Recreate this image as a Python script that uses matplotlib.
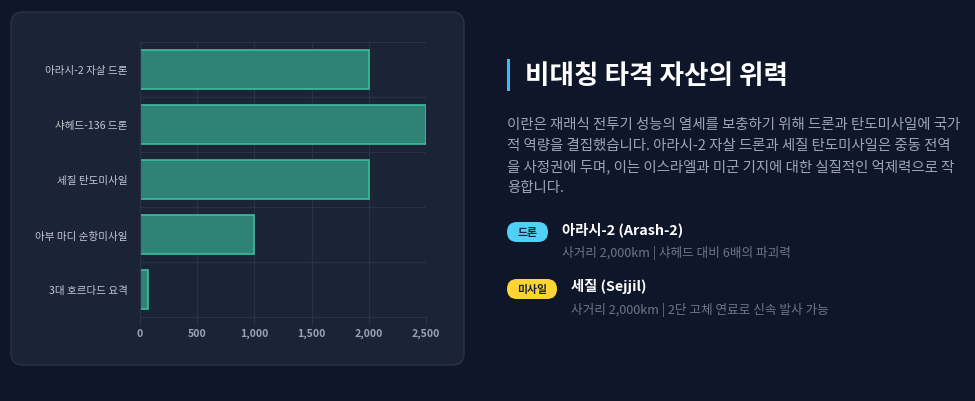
import matplotlib
matplotlib.use("Agg")
import matplotlib.pyplot as plt
from matplotlib.patches import FancyBboxPatch, Rectangle
from matplotlib.ticker import FixedLocator, FuncFormatter

plt.rcParams['font.family'] = ['Noto Sans CJK KR', 'DejaVu Sans']

# ---- data ----
categories = ['아라시-2 자살 드론', '샤헤드-136 드론', '세질 탄도미사일',
              '아부 마디 순항미사일', '3대 호르다드 요격']
ranges_km = [2000, 2500, 2000, 1000, 70]
x_ticks = [0, 500, 1000, 1500, 2000, 2500]

title = '비대칭 타격 자산의 위력'
paragraph = [
    '이란은 재래식 전투기 성능의 열세를 보충하기 위해 드론과 탄도미사일에 국가',
    '적 역량을 결집했습니다. 아라시-2 자살 드론과 세질 탄도미사일은 중동 전역',
    '을 사정권에 두며, 이는 이스라엘과 미군 기지에 대한 실질적인 억제력으로 작',
    '용합니다.',
]
badges = ['드론', '미사일']
item_titles = ['아라시-2 (Arash-2)', '세질 (Sejjil)']
item_subs = ['사거리 2,000km | 샤헤드 대비 6배의 파괴력',
             '사거리 2,000km | 2단 고체 연료로 신속 발사 가능']

# ---- colours ----
bg = '#0f1629'
card = '#1b2336'
card_edge = '#2a3346'
grid_c = '#2a3345'
bar_fill = '#2f8276'
bar_edge = '#3dbd9c'

W, H = 975, 402
fig = plt.figure(figsize=(W / 100, H / 100), dpi=100, facecolor=bg)

# background canvas in pixel coordinates
bgax = fig.add_axes([0, 0, 1, 1])
bgax.set_xlim(0, W)
bgax.set_ylim(H, 0)
bgax.axis('off')

bgax.add_patch(FancyBboxPatch((11, 13), 453, 353,
                              boxstyle='round,pad=0,rounding_size=12',
                              facecolor=card, edgecolor=card_edge, linewidth=1))

# ---- bar chart ----
ax = fig.add_axes([140 / W, 1 - 318 / H, (426 - 140) / W, (318 - 43) / H])
ax.set_facecolor('none')
ypos = list(range(len(categories)))
ax.barh(ypos, ranges_km, height=0.71, color=bar_fill, edgecolor=bar_edge,
        linewidth=1.2)
ax.set_xlim(0, 2500)
ax.set_ylim(len(categories) - 0.5, -0.5)
ax.set_yticks(ypos)
ax.set_yticklabels(categories, fontsize=7.6, color='#c3c8d1')
ax.set_xticks(x_ticks)
ax.xaxis.set_major_formatter(FuncFormatter(lambda v, p: f'{int(v):,}'))
for lbl in ax.get_xticklabels():
    lbl.set_fontsize(7.6)
    lbl.set_color('#9aa3b2')
    lbl.set_fontweight('bold')
ax.yaxis.set_minor_locator(FixedLocator([k + 0.5 for k in range(-1, len(categories))]))
ax.grid(True, axis='x', which='major', color=grid_c, linewidth=0.9)
ax.grid(True, axis='y', which='minor', color=grid_c, linewidth=0.9)
ax.set_axisbelow(True)
ax.tick_params(axis='x', length=6, color=grid_c, pad=2)
ax.tick_params(axis='y', which='major', length=0, pad=9)
ax.tick_params(axis='y', which='minor', length=0)
for s in ax.spines.values():
    s.set_visible(False)
ax.spines['left'].set_visible(True)
ax.spines['left'].set_color(grid_c)
ax.spines['bottom'].set_visible(True)
ax.spines['bottom'].set_color(grid_c)

# ---- right text panel ----
bgax.add_patch(Rectangle((507, 60), 2.5, 32, facecolor='#38bdf8', edgecolor='none'))
bgax.text(525, 76, title, fontsize=19.2, fontweight='bold', color='white',
          va='center', ha='left')

for i, line in enumerate(paragraph):
    bgax.text(507, 125 + i * 21, line, fontsize=10.4, color='#9ba6b9',
              va='center', ha='left')

badge_colors = ['#4fd0f5', '#fcd535']
badge_x = [(507, 41), (507, 50)]
rows_y = [233, 290]
text_x = [562, 571]
for i in range(2):
    bx, bw = badge_x[i]
    bgax.add_patch(FancyBboxPatch((bx, rows_y[i] - 10), bw, 20,
                                  boxstyle='round,pad=0,rounding_size=10',
                                  facecolor=badge_colors[i], edgecolor='none'))
    bgax.text(bx + bw / 2, rows_y[i], badges[i], fontsize=7.8, fontweight='bold',
              color='#1a2234', va='center', ha='center')
    bgax.text(text_x[i], rows_y[i] - 3, item_titles[i], fontsize=10.3,
              fontweight='bold', color='white', va='center', ha='left')
    bgax.text(text_x[i], rows_y[i] + 20, item_subs[i], fontsize=9.1,
              color='#6c7689', va='center', ha='left')

fig.savefig('out.png', dpi=100, facecolor=bg)
